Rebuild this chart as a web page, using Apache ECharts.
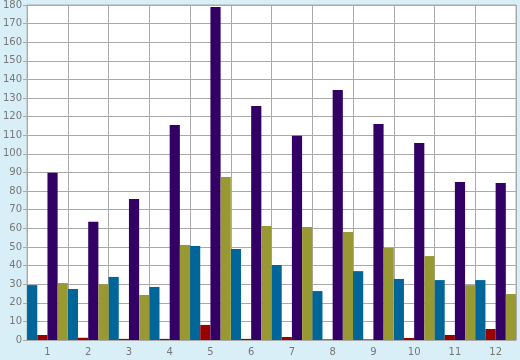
<!DOCTYPE html>
<html><head><meta charset="utf-8">
<script src="https://cdn.jsdelivr.net/npm/echarts@6/dist/echarts.min.js"></script>
<style>html,body{margin:0;padding:0;background:#d9eff7}#c{width:520px;height:360px}</style>
</head><body><div id="c"></div>
<script>
var categories = ['1','2','3','4','5','6','7','8','9','10','11','12'];
var blueValues   = [29.5, 27.4, 33.9, 28.5, 50.5, 48.9, 40.3, 26.3, 37.0, 32.8, 32.2, 32.2];
var redValues    = [2.7, 1.2, 0.6, 0.6, 8.1, 0.6, 1.6, 0.3, 0.3, 1.1, 2.7, 5.9];
var purpleValues = [89.8, 63.6, 75.8, 115.5, 178.9, 125.7, 109.8, 134.3, 116.1, 105.9, 84.9, 84.4];
var oliveValues  = [30.6, 30.0, 24.2, 51.0, 87.6, 61.3, 60.7, 58.0, 49.4, 45.1, 29.5, 24.7];

var chart = echarts.init(document.getElementById('c'), null, {renderer:'canvas'});
var labelStyle = {color:'#777', fontFamily:'DejaVu Sans', fontSize:10};
function bar(name, data, color){
  return {name:name, type:'bar', data:data, barGap:'0%', barCategoryGap:'0%',
    itemStyle:{color:color}, animation:false};
}
chart.setOption({
  backgroundColor:'#d9eff7',
  animation:false,
  grid:{left:26, right:4, top:5, bottom:20, show:true, backgroundColor:'#ffffff', borderColor:'#aaaaaa', borderWidth:1},
  xAxis:{type:'category', data:categories,
    axisLine:{lineStyle:{color:'#aaaaaa'}},
    axisTick:{length:6, lineStyle:{color:'#aaaaaa'}},
    axisLabel:Object.assign({margin:7}, labelStyle),
    splitLine:{show:true, lineStyle:{color:'#aaaaaa', width:1}}},
  yAxis:{type:'value', min:0, max:180, interval:10,
    axisLine:{show:true, lineStyle:{color:'#aaaaaa'}},
    axisTick:{show:true, length:4, lineStyle:{color:'#aaaaaa'}},
    axisLabel:Object.assign({margin:5}, labelStyle),
    splitLine:{show:true, lineStyle:{color:'#aaaaaa', width:1}}},
  series:[
    bar('A', blueValues, '#006699'),
    bar('B', redValues, '#990000'),
    bar('C', purpleValues, '#330066'),
    bar('D', oliveValues, '#999933')
  ]
});
</script></body></html>
